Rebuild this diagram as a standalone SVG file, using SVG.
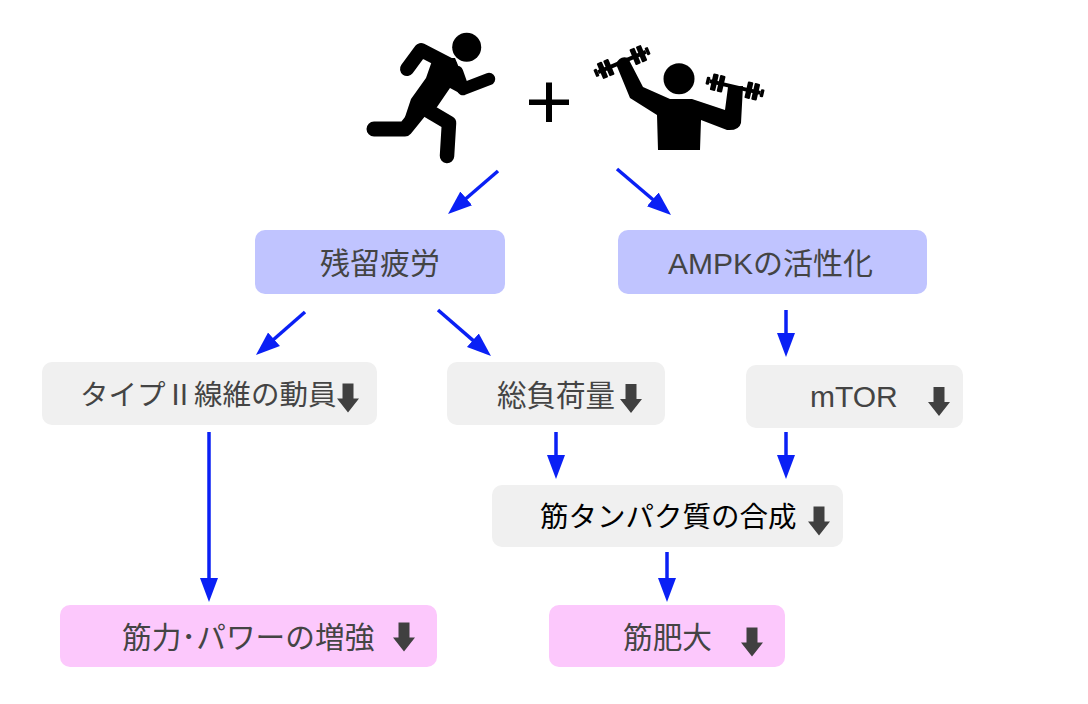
<svg xmlns="http://www.w3.org/2000/svg" width="1088" height="704" viewBox="0 0 1088 704">
<style>
.t{font-family:"Liberation Sans","Noto Sans CJK JP",sans-serif;fill:#444;font-size:30px}
.s{font-size:28.500px}
.pu{fill:#c0c4ff}.gr{fill:#f0f0f0}.pi{fill:#fcc8fc}
.c{fill:none;stroke:#0a20f5;stroke-width:3.500;marker-end:url(#ah)}
.lim{fill:none;stroke:#000;stroke-linecap:round;stroke-linejoin:round}
</style>
<defs>
<marker id="ah" markerUnits="userSpaceOnUse" markerWidth="26" markerHeight="22" refX="4" refY="11" orient="auto"><path d="M0 2L24 11L0 20Z" fill="#0a20f5"/></marker>
<path id="down" d="M-5.500 -14.500H5.500V0.500H11L0 14.500L-11 0.500H-5.500Z" fill="#404040"/>
<g id="db"><rect x="-29.500" y="-4" width="3.500" height="8" rx="1"/><rect x="-24" y="-8.500" width="5.500" height="17" rx="1"/><rect x="-17" y="-8.500" width="5.500" height="17" rx="1"/><rect x="-26" y="-2" width="52" height="4"/><rect x="11.500" y="-8.500" width="5.500" height="17" rx="1"/><rect x="18.500" y="-8.500" width="5.500" height="17" rx="1"/><rect x="26" y="-4" width="3.500" height="8" rx="1"/></g>
</defs>
<rect width="1088" height="704" fill="#fff"/>
<g id="runner">
<circle cx="466.700" cy="47.300" r="14.500"/>
<path class="lim" stroke-width="14" d="M407 69L421 50L450 65"/>
<path class="lim" stroke-width="12.500" d="M457 72L463 89L489 79"/>
<path class="lim" stroke-width="15" d="M374 129H405L422 108"/>
<path class="lim" stroke-width="14.500" d="M427 110L449 123L447 156"/>
<path d="M433 58L455 58L465 82L463 95L450 88L437 107L422 117L403 123L411 99L426 78Z"/>
</g>
<g id="plus"><path d="M529 99.500H569V105H529ZM546 82.500H552V122H546Z"/></g>
<g id="lifter">
<circle cx="679" cy="78.700" r="15.500"/>
<path d="M616 64Q620 55 628 58L643 87L670 99H692L725 110L728 87L743 86L741 123Q739 131 727 130L701 120L700 150H658L657 115L630 98Z"/>
<use href="#db" transform="translate(622 62) rotate(-23)"/>
<use href="#db" transform="translate(735 87) rotate(13)"/>
</g>
<g id="connectors">
<path class="c" d="M498 171L463.200 201"/>
<path class="c" d="M617 169L655.800 202"/>
<path class="c" d="M305 312L271 341.800"/>
<path class="c" d="M438 310L475.900 342.900"/>
<path class="c" d="M786 310V337"/>
<path class="c" d="M209 432V582"/>
<path class="c" d="M556 432V459"/>
<path class="c" d="M786 432V459"/>
<path class="c" d="M667 552V582"/>
</g>
<g id="n1"><rect class="pu" x="255" y="230" width="250" height="64" rx="10"/><text class="t" x="320" y="274">残留疲労</text></g>
<g id="n2"><rect class="pu" x="618" y="230" width="309" height="64" rx="10"/><text class="t" x="668" y="274">AMPKの活性化</text></g>
<g id="n3"><rect class="gr" x="42" y="362" width="335" height="63" rx="10"/><text class="t s" x="80" y="405">タイプ<tspan font-family="'Noto Sans CJK JP',sans-serif">Ⅱ</tspan>線維の動員</text><use href="#down" x="348" y="398"/></g>
<g id="n4"><rect class="gr" x="447" y="362" width="218" height="63" rx="10"/><text class="t" x="497" y="406" style="font-size:29.500px">総負荷量</text><use href="#down" x="631" y="398.500"/></g>
<g id="n5"><rect class="gr" x="746" y="365" width="217" height="63" rx="10"/><text class="t" x="810" y="407">mTOR</text><use href="#down" x="939" y="401.500"/></g>
<g id="n6"><rect class="gr" x="492" y="485" width="351" height="62" rx="10"/><text class="t s" x="540" y="527" style="fill:#000">筋タンパク質の合成</text><use href="#down" x="819" y="521"/></g>
<g id="n7"><rect class="pi" x="60" y="605" width="377" height="62" rx="10"/><text class="t" x="122" y="648" style="font-size:29.700px">筋力･パワーの増強</text><use href="#down" x="404" y="637"/></g>
<g id="n8"><rect class="pi" x="549" y="605" width="236" height="62" rx="10"/><text class="t" x="623" y="648" style="font-size:29.700px">筋肥大</text><use href="#down" x="752" y="642"/></g>
</svg>
